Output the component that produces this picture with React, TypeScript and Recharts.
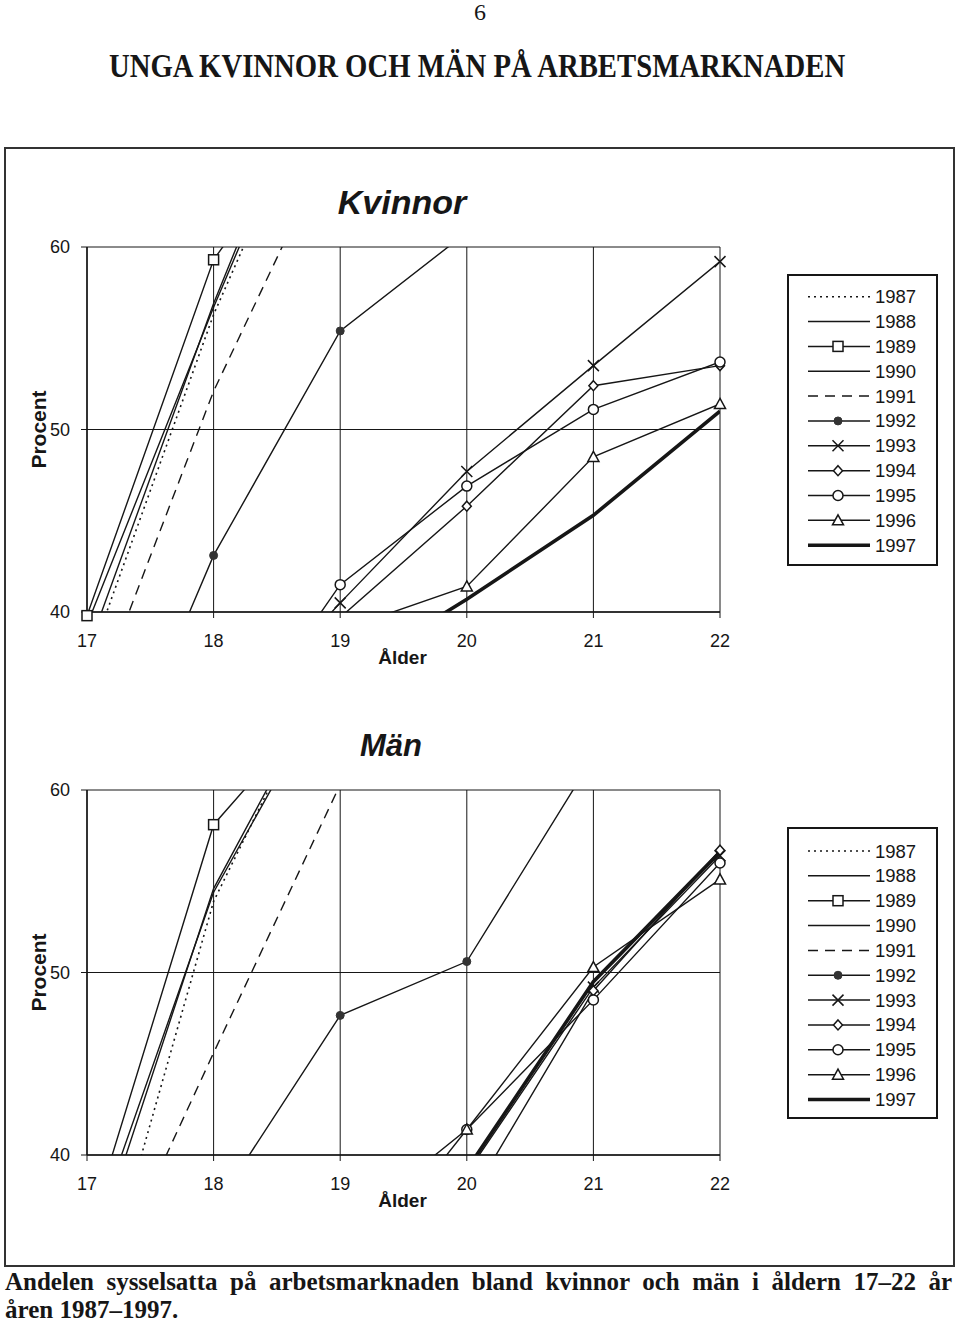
import React from 'react';
import { LineChart, Line, XAxis, YAxis, CartesianGrid, Legend, Label, ReferenceDot } from 'recharts';

// ---- data ----
const ages = [17, 18, 19, 20, 21, 22];
const years = ['1987', '1988', '1989', '1990', '1991', '1992', '1993', '1994', '1995', '1996', '1997'];
const yTicks = [40, 50, 60];

// Kvinnor (women), employment share (%) by age 17..22
const women1987 = [37.0, 56.3, 72, 78, 82, 84];
const women1988 = [39.3, 56.7, 73, 79, 83, 85];
const women1989 = [39.8, 59.3, 69, 76, 81, 84];
const women1990 = [37.8, 56.9, 74, 80, 83, 85];
const women1991 = [34.0, 52.1, 66.7, 74, 78, 81];
const women1992 = [26.8, 43.1, 55.4, 60.8, 65, 68];
const women1993 = [25.0, 33.0, 40.5, 47.7, 53.5, 59.2];
const women1994 = [25.0, 33.5, 39.7, 45.8, 52.4, 53.5];
const women1995 = [24.0, 31.5, 41.5, 46.9, 51.1, 53.7];
const women1996 = [24.0, 32.0, 39.0, 41.4, 48.5, 51.4];
const women1997 = [22.0, 30.0, 36.4, 40.7, 45.3, 51.0];

// Män (men)
const men1987 = [29.5, 53.9, 68, 76, 80, 83];
const men1988 = [34.6, 54.4, 66.8, 74, 79, 82];
const men1989 = [35.5, 58.1, 66, 73, 78, 81];
const men1990 = [33.5, 54.6, 67.5, 75, 80, 83];
const men1991 = [30.6, 45.6, 60.3, 68, 74, 78];
const men1992 = [26.0, 37.0, 47.65, 50.6, 61.8, 67];
const men1993 = [22.0, 26.0, 30.0, 39.0, 49.2, 56.4];
const men1994 = [22.0, 26.0, 29.0, 37.3, 49.0, 56.7];
const men1995 = [24.0, 28.0, 35.8, 41.4, 48.5, 56.0];
const men1996 = [23.0, 27.0, 32.6, 41.4, 50.3, 55.1];
const men1997 = [22.0, 26.0, 30.0, 39.2, 49.5, 56.6];

const womenSeries = [women1987, women1988, women1989, women1990, women1991, women1992, women1993, women1994, women1995, women1996, women1997];
const menSeries = [men1987, men1988, men1989, men1990, men1991, men1992, men1993, men1994, men1995, men1996, men1997];

// ---- styles ----
const INK = '#161616';
type Marker = 'none' | 'square' | 'dot' | 'cross' | 'diamond' | 'circle' | 'triangle';
const markers: Marker[] = ['none', 'none', 'square', 'none', 'none', 'dot', 'cross', 'diamond', 'circle', 'triangle', 'none'];
const dashes: (string | undefined)[] = ['2 4', undefined, undefined, undefined, '10 7', undefined, undefined, undefined, undefined, undefined, undefined];
const widths = [1.6, 1.4, 1.4, 1.4, 1.4, 1.4, 1.4, 1.4, 1.4, 1.4, 3.6];

const buildRows = (series: number[][]) =>
  ages.map((age, i) => {
    const row: Record<string, number> = { age };
    years.forEach((y, k) => {
      row['y' + y] = series[k][i];
    });
    return row;
  });

const womenData = buildRows(womenSeries);
const menData = buildRows(menSeries);

function drawMarker(type: Marker, cx: number, cy: number) {
  const common = { stroke: INK, strokeWidth: 1.5 };
  switch (type) {
    case 'square':
      return <rect x={cx - 5} y={cy - 5} width={10} height={10} fill="#fff" {...common} />;
    case 'dot':
      return <circle cx={cx} cy={cy} r={4} fill="#333" stroke="#333" strokeWidth={1} />;
    case 'cross':
      return <path d={`M${cx - 5.5},${cy - 5.5}L${cx + 5.5},${cy + 5.5}M${cx - 5.5},${cy + 5.5}L${cx + 5.5},${cy - 5.5}`} fill="none" {...common} />;
    case 'diamond':
      return <path d={`M${cx},${cy - 5}L${cx + 4.5},${cy}L${cx},${cy + 5}L${cx - 4.5},${cy}Z`} fill="#fff" {...common} />;
    case 'circle':
      return <circle cx={cx} cy={cy} r={5} fill="#fff" {...common} />;
    case 'triangle':
      return <path d={`M${cx},${cy - 5.5}L${cx + 5.5},${cy + 4.5}L${cx - 5.5},${cy + 4.5}Z`} fill="#fff" {...common} />;
    default:
      return <g />;
  }
}

const LegendBox = ({ firstRow }: { firstRow: number }) => (
  <div style={{ width: 151, height: 292, boxSizing: 'border-box', border: `2px solid ${INK}`, background: '#fff' }}>
    <svg width={147} height={288} style={{ display: 'block' }}>
      {years.map((y, k) => {
        const cy = firstRow + k * 24.85;
        return (
          <g key={y}>
            <line x1={19} x2={81} y1={cy} y2={cy} stroke={INK} strokeWidth={k === 10 ? 3.6 : 1.5} strokeDasharray={dashes[k]} />
            {drawMarker(markers[k], 49, cy)}
            <text x={86} y={cy} dominantBaseline="central" fontSize={18.5} fontFamily="Liberation Sans, Arial, sans-serif" fill={INK}>
              {y}
            </text>
          </g>
        );
      })}
    </svg>
  </div>
);

const procentLabel = (props: any) => {
  const vb = props.viewBox || {};
  const x = 38;
  const y = vb.y + vb.height / 2;
  return (
    <text x={x} y={y} transform={`rotate(-90, ${x}, ${y})`} textAnchor="middle" dominantBaseline="central" fontSize={21} fontWeight="bold" fontFamily="Liberation Sans, Arial, sans-serif" fill={INK}>
      Procent
    </text>
  );
};

const alderLabel = (props: any) => {
  const vb = props.viewBox || {};
  const x = vb.x + vb.width / 2 - 1;
  const y = vb.y + 45;
  return (
    <text x={x} y={y} textAnchor="middle" dominantBaseline="central" fontSize={19} fontWeight="bold" fontFamily="Liberation Sans, Arial, sans-serif" fill={INK}>
      Ålder
    </text>
  );
};

const tickStyle = { fontSize: 18, fill: INK, fontFamily: 'Liberation Sans, Arial, sans-serif' };

function Panel({ data, series, top, legendTop, firstRow, prefix }: { data: any[]; series: number[][]; top: number; legendTop: number; firstRow: number; prefix: string }) {
  const dots: React.ReactNode[] = [];
  years.forEach((y, k) => {
    const m = markers[k];
    if (m === 'none') return;
    series[k].forEach((v, i) => {
      if (v < 39.8 || v > 60.3) return;
      dots.push(
        <ReferenceDot
          key={`${prefix}-${y}-${i}`}
          x={ages[i]}
          y={v}
          r={5}
          ifOverflow="visible"
          shape={(p: any) => drawMarker(m, p.cx, p.cy)}
        />
      );
    });
  });
  return (
    <div style={{ position: 'absolute', left: 0, top, width: 960, height: 540 }}>
      <LineChart width={960} height={540} data={data} margin={{ top: 97, right: 240, left: 0, bottom: 18 }}>
        <CartesianGrid stroke={INK} strokeWidth={1} />
        <XAxis
          dataKey="age"
          type="number"
          domain={[17, 22]}
          ticks={ages}
          allowDataOverflow
          height={60}
          tick={tickStyle}
          tickSize={6}
          tickMargin={16}
          stroke={INK}
          axisLine={{ stroke: INK, strokeWidth: 1.5 }}
          tickLine={{ stroke: INK }}
        >
          <Label content={alderLabel} />
        </XAxis>
        <YAxis
          type="number"
          domain={[40, 60]}
          ticks={yTicks}
          allowDataOverflow
          width={87}
          tick={tickStyle}
          tickSize={6}
          tickMargin={11}
          stroke={INK}
          axisLine={{ stroke: INK, strokeWidth: 1.5 }}
          tickLine={{ stroke: INK }}
        >
          <Label content={procentLabel} />
        </YAxis>
        <Legend
          layout="horizontal"
          verticalAlign="middle"
          align="center"
          content={() => <LegendBox firstRow={firstRow} />}
          wrapperStyle={{ position: 'absolute', left: 787, top: legendTop, width: 151, height: 292 }}
        />
        {years.map((y, k) => (
          <Line
            key={y}
            name={y}
            type="linear"
            dataKey={'y' + y}
            stroke={INK}
            strokeWidth={widths[k]}
            strokeDasharray={dashes[k]}
            dot={false}
            activeDot={false}
            isAnimationActive={false}
          />
        ))}
        {dots}
      </LineChart>
    </div>
  );
}

export default function App() {
  return (
    <div style={{ position: 'absolute', left: 0, top: 0, width: 960, height: 1326, background: '#fff', color: INK, fontFamily: 'Liberation Serif, Times New Roman, serif' }}>
      <div style={{ position: 'absolute', left: 0, top: 0, width: 960, textAlign: 'center', fontSize: 24, lineHeight: '24px' }}>6</div>
      <div style={{ position: 'absolute', left: 0, top: 47, width: 955, textAlign: 'center', fontSize: 33, lineHeight: '38px' }}>
        <span style={{ display: 'inline-block', transform: 'scaleX(0.87)', fontWeight: 'bold' }}>UNGA KVINNOR OCH MÄN PÅ ARBETSMARKNADEN</span>
      </div>
      <div style={{ position: 'absolute', left: 4, top: 147, width: 951, height: 1120, boxSizing: 'border-box', border: '2px solid #333' }} />

      <div style={{ position: 'absolute', left: 402, top: 202, transform: 'translate(-50%, -50%)', fontFamily: 'Liberation Sans, Arial, sans-serif', fontWeight: 'bold', fontStyle: 'italic', fontSize: 34, lineHeight: '34px', whiteSpace: 'nowrap' }}>Kvinnor</div>
      <div style={{ position: 'absolute', left: 391, top: 745, transform: 'translate(-50%, -50%)', fontFamily: 'Liberation Sans, Arial, sans-serif', fontWeight: 'bold', fontStyle: 'italic', fontSize: 31, lineHeight: '31px', whiteSpace: 'nowrap' }}>Män</div>

      <Panel data={womenData} series={womenSeries} top={150} legendTop={124} firstRow={20.7} prefix="w" />
      <Panel data={menData} series={menSeries} top={693} legendTop={134} firstRow={22} prefix="m" />

      <div style={{ position: 'absolute', left: 5, top: 1268, width: 947, fontSize: 25, lineHeight: '28px', fontWeight: 'bold' }}>
        <div style={{ textAlign: 'justify', textAlignLast: 'justify', whiteSpace: 'nowrap' } as React.CSSProperties}>
          Andelen sysselsatta på arbetsmarknaden bland kvinnor och män i åldern 17–22 år
        </div>
        <div>åren 1987–1997.</div>
      </div>
    </div>
  );
}
